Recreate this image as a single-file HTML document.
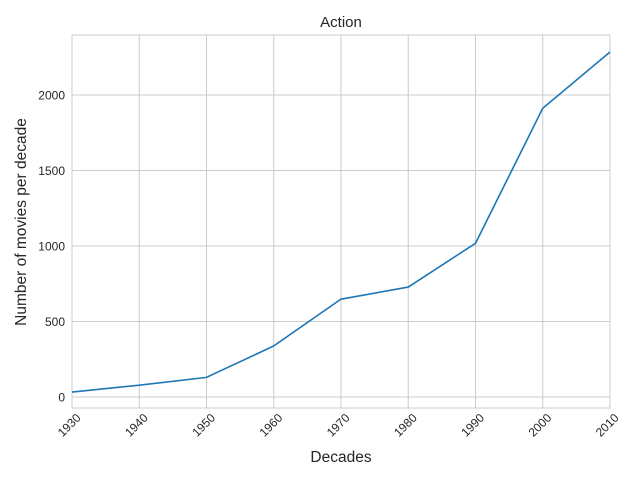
<!DOCTYPE html>
<html><head><meta charset="utf-8"><style>
body{margin:0;background:#fff;}
svg{display:block;font-family:"Liberation Sans",Arial,sans-serif;}
</style></head><body>
<svg width="640" height="480">
<g id="grid"></g>
<rect x="72" y="35" width="538" height="373" fill="none" stroke="#cccccc" stroke-width="1"/>
<g id="xt"></g><g id="yt"></g>
<path id="line" fill="none" stroke="#1f77b4" stroke-width="1.6"/>
<text x="341" y="27" text-anchor="middle" font-size="15" fill="#262626">Action</text>
<text x="341" y="462" text-anchor="middle" font-size="15.5" fill="#262626">Decades</text>
<text transform="translate(26,222) rotate(-90)" text-anchor="middle" font-size="15.5" fill="#262626">Number of movies per decade</text>
</svg>
<script>
const decades=[1930,1940,1950,1960,1970,1980,1990,2000,2010];
const counts=[33,78,130,338,648,728,1018,1912,2285];
const yTicks=[0,500,1000,1500,2000];
const NS="http://www.w3.org/2000/svg";
const x=d=>72+(d-1930)*(538/80);
const y=v=>397-v*(75.5/500);
const grid=document.getElementById('grid'),xt=document.getElementById('xt'),yt=document.getElementById('yt');
function mk(t,a){const e=document.createElementNS(NS,t);for(const k in a)e.setAttribute(k,a[k]);return e;}
decades.forEach(d=>{
 const l=mk('line',{x1:x(d),x2:x(d),y1:35,y2:408,stroke:'#cccccc'});
 
 
 grid.appendChild(l);
 const t=mk('text',{'font-size':'12',fill:'#262626','text-anchor':'middle',transform:`translate(${x(d)},${428}) rotate(-45)`});
 t.textContent=d;
 
 
 xt.appendChild(t);
});
yTicks.forEach(v=>{
 const l=mk('line',{x1:72,x2:610,y1:y(v),y2:y(v),stroke:'#cccccc'});
 
 
 grid.appendChild(l);
 const t=mk('text',{x:65,y:y(v)+4.5,'font-size':'12',fill:'#262626','text-anchor':'end'});
 t.textContent=v;
 
 
 yt.appendChild(t);
});
document.getElementById('line').setAttribute('d',decades.map((d,i)=>(i?'L':'M')+x(d)+','+y(counts[i])).join(''));
</script>
</body></html>
